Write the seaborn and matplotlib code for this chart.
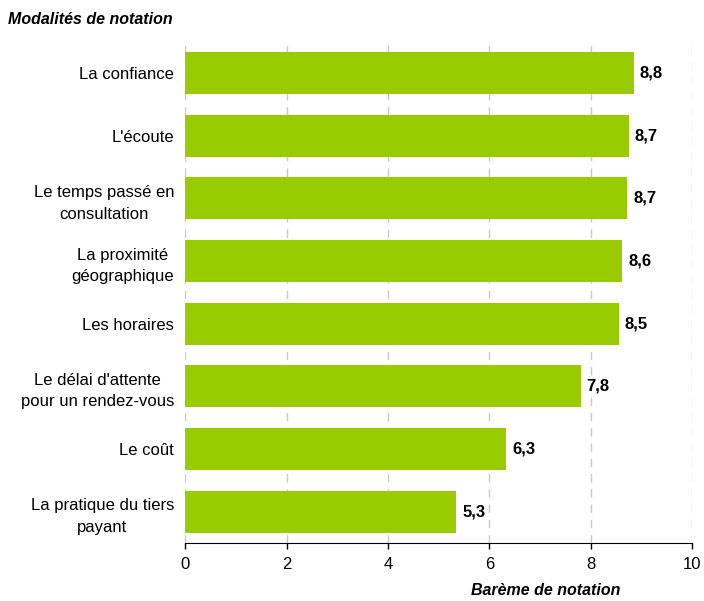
import pandas as pd
import matplotlib.pyplot as plt
import seaborn as sns

categories = [
    "La confiance",
    "L'écoute",
    "Le temps passé en\nconsultation",
    "La proximité\ngéographique",
    "Les horaires",
    "Le délai d'attente\npour un rendez-vous",
    "Le coût",
    "La pratique du tiers\npayant",
]
scores = [8.85, 8.75, 8.72, 8.62, 8.55, 7.8, 6.33, 5.35]
score_labels = ["8,8", "8,7", "8,7", "8,6", "8,5", "7,8", "6,3", "5,3"]
xticks = [0, 2, 4, 6, 8, 10]

df = pd.DataFrame({'modalite': categories, 'note': scores})

sns.set_style('white')
plt.rcParams['font.family'] = ['Liberation Sans', 'DejaVu Sans']
plt.rcParams['text.color'] = 'black'
plt.rcParams['xtick.color'] = 'black'
plt.rcParams['ytick.color'] = 'black'

fig = plt.figure(figsize=(7.04, 6.01), dpi=100)
ax = fig.add_axes([0.263, 0.0965, 0.72, 0.834])

sns.barplot(data=df, x='note', y='modalite', orient='h', color='#99cc00',
            saturation=1, width=0.67, linewidth=0, ax=ax, zorder=3)

for i, (v, lab) in enumerate(zip(scores, score_labels)):
    ax.text(v + 0.12, i, lab, va='center', ha='left', fontsize=12,
            fontweight='bold', color='black')

ax.set_xlim(0, 10)
ax.set_ylim(7.5, -0.5)
ax.set_xticks(xticks)
ax.set_xticklabels([str(t) for t in xticks], fontsize=12)
ax.tick_params(axis='y', labelsize=12, length=0, pad=8)
ax.tick_params(axis='x', direction='out', length=4, width=1, color='black', bottom=True, pad=6)
for lab in ax.get_yticklabels():
    lab.set_horizontalalignment('right')
    lab.set_multialignment('center')
    lab.set_linespacing(1.55)
    lab.set_color('black')

ax.grid(axis='x', color='#c8c8c8', linestyle=(0, (6, 5)), linewidth=1, zorder=0)
for s in ['top', 'right', 'left']:
    ax.spines[s].set_visible(False)
ax.spines['bottom'].set_color('black')

ax.set_ylabel('')
ax.set_xlabel('')
fig.text(0.881, 0.005, 'Barème de notation', ha='right', va='bottom',
         fontsize=11.5, fontweight='bold', fontstyle='italic')
fig.text(0.011, 0.955, 'Modalités de notation', ha='left', va='bottom',
         fontsize=11.5, fontweight='bold', fontstyle='italic')

fig.savefig('out.png', dpi=100)
